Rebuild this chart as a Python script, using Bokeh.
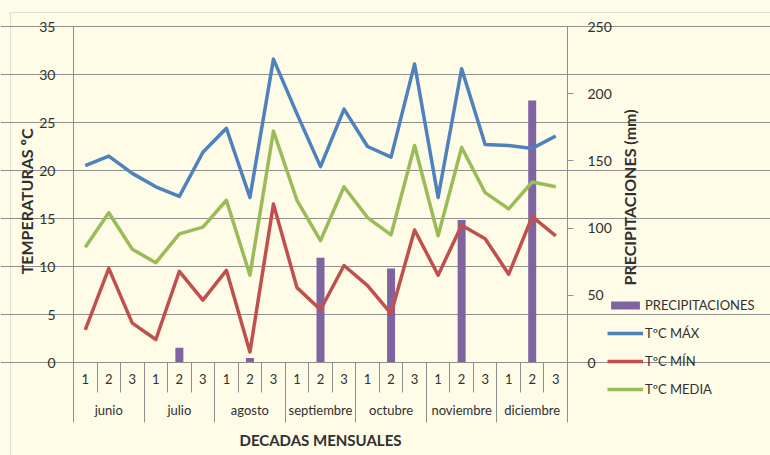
import math
from bokeh.plotting import figure
from bokeh.models import (LinearAxis, Range1d, FixedTicker, Legend, LegendItem, BoxAnnotation)
from bokeh.embed import file_html
from bokeh.resources import INLINE

# ---- data ----
months = ["junio", "julio", "agosto", "septiembre", "octubre", "noviembre", "diciembre"]
decades = ["1", "2", "3"]
tmax = [20.5, 21.5, 19.7, 18.3, 17.3, 21.9, 24.4, 17.2, 31.6, 25.9, 20.4,
        26.4, 22.5, 21.4, 31.1, 17.2, 30.6, 22.7, 22.6, 22.3, 23.6]
tmin = [3.4, 9.8, 4.1, 2.4, 9.5, 6.5, 9.6, 1.1, 16.5, 7.8, 5.5,
        10.1, 8.0, 5.1, 13.8, 9.1, 14.3, 12.9, 9.2, 15.2, 13.2]
tmed = [12.0, 15.6, 11.8, 10.4, 13.4, 14.1, 16.9, 9.1, 24.1, 16.9, 12.7,
        18.3, 15.1, 13.3, 22.6, 13.2, 22.4, 17.7, 16.0, 18.8, 18.3]
precip = [0, 0.3, 0, 0, 11, 0, 0, 3.4, 0, 0, 78,
          0, 0, 70, 0, 0, 106, 0, 0, 195, 0]
temp_ticks = [0, 5, 10, 15, 20, 25, 30, 35]
precip_ticks = [0, 50, 100, 150, 200, 250]

BG = "#FEFBE6"
GRID = "#8f8f8f"
BORDER = "#9a9a9a"
TXT = "#303030"
FONT = "Lato"
C_P, C_MAX, C_MIN, C_MED = "#8064A2", "#4F81BD", "#C0504D", "#9BBB59"

nd = len(decades)
n = len(months) * nd
xs = list(range(n))

# ---- layout (pixels); the frame covers the whole canvas ----
W, H = 770, 455
LEFT, TOP = 73, 26                  # plotting-area origin
PLOT_W, PLOT_H = 494, 336           # plotting-area size
x0, x1 = -0.5, n - 0.5
t0, t1 = temp_ticks[0], temp_ticks[-1]
p0, p1 = precip_ticks[0], precip_ticks[-1]
px_x = PLOT_W / (x1 - x0)
px_t = PLOT_H / (t1 - t0)
px_p = PLOT_H / (p1 - p0)


def ty(py):   # screen y (from top) -> temperature value
    return t0 + (TOP + PLOT_H - py) / px_t


def pyv(py):  # screen y (from top) -> precipitation value
    return p0 + (TOP + PLOT_H - py) / px_p


def tx(px):   # screen x -> category coordinate
    return x0 + (px - LEFT) / px_x


p = figure(frame_width=W, frame_height=H,
           min_border_left=0, min_border_right=0,
           min_border_top=0, min_border_bottom=0,
           x_range=Range1d(tx(0), tx(W)),
           y_range=Range1d(ty(H), ty(0)),
           output_backend="svg", toolbar_location=None,
           background_fill_color=BG, border_fill_color=BG)
p.outline_line_color = None
p.extra_y_ranges = {"pp": Range1d(pyv(H), pyv(0))}

# chart-area border
p.add_layout(BoxAnnotation(left=tx(10), top=ty(12), right=tx(W + 20), bottom=ty(H + 20),
                           fill_alpha=0, line_color=BORDER, line_width=1, level="underlay"))

# grid
p.xgrid.visible = False
p.ygrid.ticker = FixedTicker(ticks=temp_ticks)
p.ygrid.bounds = (x0, x1)
p.ygrid.grid_line_color = GRID
p.ygrid.grid_line_width = 1

# left axis
ya = p.yaxis[0]
ya.fixed_location = x0
ya.ticker = FixedTicker(ticks=temp_ticks)
ya.bounds = (t0, t1)
ya.major_label_text_font = FONT
ya.major_label_text_font_size = "14px"
ya.major_label_text_color = TXT
ya.major_label_standoff = 10
ya.major_tick_out = 8
ya.major_tick_in = 0
ya.minor_tick_line_color = None
ya.axis_line_color = GRID
ya.major_tick_line_color = GRID

# left axis title
lc = ty(199)
lt = LinearAxis(ticker=FixedTicker(ticks=[]), bounds=(lc - 10, lc + 10), fixed_location=x0)
lt.axis_line_color = None
lt.major_tick_line_color = None
lt.minor_tick_line_color = None
lt.major_tick_out = 0
lt.axis_label = "TEMPERATURAS  ºC"
lt.axis_label_text_font = FONT
lt.axis_label_text_font_style = "bold"
lt.axis_label_text_font_size = "16px"
lt.axis_label_text_color = TXT
lt.axis_label_standoff = 38
p.add_layout(lt, "left")

# right axis (ticks)
ra = LinearAxis(y_range_name="pp", ticker=FixedTicker(ticks=precip_ticks),
                bounds=(p0, p1), fixed_location=x1)
ra.major_label_text_font = FONT
ra.major_label_text_font_size = "14px"
ra.major_label_text_color = TXT
ra.major_label_standoff = 14
ra.major_tick_out = 6
ra.major_tick_in = 0
ra.minor_tick_line_color = None
ra.axis_line_color = GRID
ra.major_tick_line_color = GRID
p.add_layout(ra, "right")

# right axis title (reads bottom-to-top, starts at its anchor)
ta = pyv(285)
rt = LinearAxis(y_range_name="pp", ticker=FixedTicker(ticks=[]),
                bounds=(ta - 40, ta + 40), fixed_location=x1)
rt.axis_line_color = None
rt.major_tick_line_color = None
rt.minor_tick_line_color = None
rt.major_tick_out = 0
rt.axis_label = "PRECIPITACIONES (mm)"
rt.axis_label_orientation = math.pi / 2
rt.axis_label_text_font = FONT
rt.axis_label_text_font_style = "bold"
rt.axis_label_text_font_size = "16px"
rt.axis_label_text_color = TXT
rt.axis_label_standoff = 62
p.add_layout(rt, "right")

# bottom axis: decades
xa = p.xaxis[0]
xa.fixed_location = t0
xa.bounds = (x0, x1)
xa.ticker = FixedTicker(ticks=xs, minor_ticks=[i - 0.5 for i in range(n + 1)])
xa.major_label_overrides = {i: decades[i % nd] for i in xs}
xa.major_tick_in = 0
xa.major_tick_out = 0
xa.major_tick_line_color = None
xa.minor_tick_in = 0
xa.minor_tick_out = 30
xa.minor_tick_line_color = GRID
xa.axis_line_color = GRID
xa.major_label_text_font = FONT
xa.major_label_text_font_size = "13px"
xa.major_label_text_color = TXT
xa.major_label_standoff = -19

# bottom axis: months
mcent = [i * nd + (nd - 1) / 2 for i in range(len(months))]
ma = LinearAxis(ticker=FixedTicker(ticks=mcent,
                                   minor_ticks=[i * nd - 0.5 for i in range(len(months) + 1)]),
                fixed_location=ty(TOP + PLOT_H + 26), bounds=(x0, x1))
ma.major_label_overrides = {c: m for c, m in zip(mcent, months)}
ma.axis_line_color = None
ma.major_tick_line_color = None
ma.major_tick_in = 0
ma.major_tick_out = 0
ma.minor_tick_in = 0
ma.minor_tick_out = 34
ma.minor_tick_line_color = GRID
ma.major_label_text_font = FONT
ma.major_label_text_font_size = "13px"
ma.major_label_text_color = TXT
ma.major_label_standoff = -21
ma.axis_label = "DECADAS MENSUALES"
ma.axis_label_text_font = FONT
ma.axis_label_text_font_style = "bold"
ma.axis_label_text_font_size = "15px"
ma.axis_label_text_color = TXT
ma.axis_label_standoff = 10
p.add_layout(ma, "below")

# glyphs
bars = p.vbar(x=xs, top=precip, width=0.34, y_range_name="pp",
              fill_color=C_P, line_color=None)
lmax = p.line(xs, tmax, line_width=3.5, line_color=C_MAX, line_join="round")
lmin = p.line(xs, tmin, line_width=3.5, line_color=C_MIN, line_join="round")
lmed = p.line(xs, tmed, line_width=3.5, line_color=C_MED, line_join="round")

legend = Legend(items=[LegendItem(label="PRECIPITACIONES", renderers=[bars]),
                       LegendItem(label="TºC MÁX", renderers=[lmax]),
                       LegendItem(label="TºC MÍN", renderers=[lmin]),
                       LegendItem(label="TºC MEDIA", renderers=[lmed])],
                location=(607, 56), padding=0, spacing=8,
                glyph_width=36, glyph_height=10, label_height=20,
                label_standoff=2, border_line_color=None,
                background_fill_alpha=0,
                label_text_font=FONT, label_text_font_size="13px",
                label_text_color=TXT)
p.add_layout(legend, "center")

open("out.html", "w").write(file_html(p, INLINE))
